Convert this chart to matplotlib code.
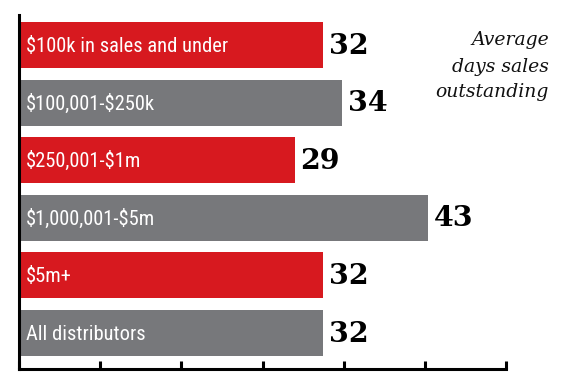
import matplotlib
matplotlib.use("Agg")
import matplotlib.pyplot as plt
from matplotlib import font_manager
import numpy as np

plt.rcParams["text.parse_math"] = False

categories = ["$100k in sales and under", "$100,001-$250k", "$250,001-$1m",
              "$1,000,001-$5m", "$5m+", "All distributors"]
values = [32, 34, 29, 43, 32, 32]
bar_colors = ["#D7191F", "#77787B", "#D7191F", "#77787B", "#D7191F", "#77787B"]
title_lines = ["Average", "days sales", "outstanding"]

names = {f.name for f in font_manager.fontManager.ttflist}
label_family = [f for f in ["Roboto Condensed", "Liberation Sans Narrow", "Open Sans Condensed"] if f in names] or ["Liberation Sans"]

fig = plt.figure(figsize=(5.67, 3.83), dpi=100)
ax = fig.add_axes([19/567, 14/383, (506-19)/567, (369-15)/383])

y = np.arange(len(categories))
ax.barh(y, values, height=0.8, color=bar_colors, zorder=2)
ax.set_ylim(5.625, -0.52)
ax.set_xlim(0, 51.2)

for yi, (cat, v) in enumerate(zip(categories, values)):
    ax.text(0.7, yi + 0.02, cat, color="white", fontsize=14.8, family=label_family,
            va="center", ha="left", zorder=3)
    ax.text(v + 0.6, yi + 0.02, str(v), color="black", fontsize=20.5, family="DejaVu Serif",
            fontweight="bold", va="center", ha="left", zorder=3)

for line, base in zip(title_lines, [45, 72, 97]):
    ax.text(549/567, 1 - base/383, line, transform=fig.transFigure, ha="right", va="baseline",
            fontsize=13.5, family="DejaVu Serif", style="italic", color="#111111")

ax.spines["top"].set_visible(False)
ax.spines["right"].set_visible(False)
ax.spines["left"].set_linewidth(2.2)
ax.spines["bottom"].set_linewidth(2.2)
ax.set_yticks([])
ax.set_xticks(np.linspace(0, 51.2, 7))
ax.set_xticklabels([])
ax.tick_params(axis="x", direction="in", length=6, width=2.2, color="black")

fig.savefig("out.png", dpi=100)
